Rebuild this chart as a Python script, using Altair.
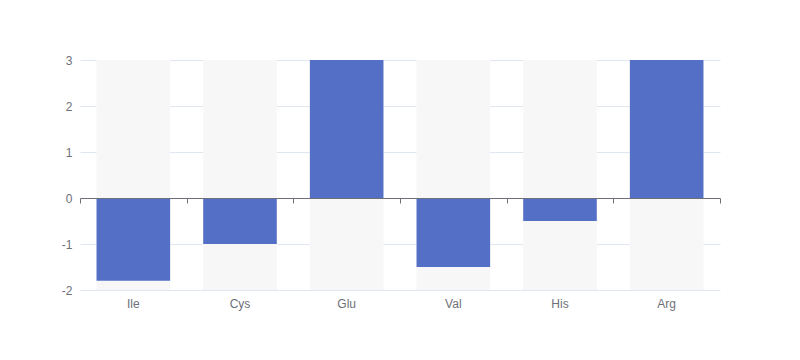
import altair as alt
import pandas as pd

categories = ["Ile", "Cys", "Glu", "Val", "His", "Arg"]
values = [-1.8, -1.0, 3.0, -1.5, -0.5, 3.0]

df = pd.DataFrame({"cat": categories, "val": values})

xscale = alt.Scale(domain=categories, paddingInner=0, paddingOuter=0)
yscale = alt.Scale(domain=[-2, 3], nice=False)

yaxis = alt.Axis(title=None, domain=False, ticks=False, grid=True, values=[-2, -1, 0, 1, 2, 3],
                 gridColor="#E0E6F1", labelColor="#6E7079", labelFontSize=12,
                 labelPadding=8, labelFont="sans-serif", orient="left",
                 labelExpr="'' + datum.value")

bw = alt.RelativeBandSize(0.69)

bg = alt.Chart(df).mark_bar(color="#f7f7f7", width=bw).encode(
    x=alt.X("cat:N", scale=xscale, sort=categories,
            axis=alt.Axis(title=None, domain=False, ticks=False, grid=False, labelAngle=0,
                          orient="bottom", labelColor="#6E7079", labelFontSize=12,
                          labelPadding=8, labelFont="sans-serif")),
    y=alt.datum(3, scale=yscale, axis=yaxis),
    y2=alt.datum(-2),
)

bars = alt.Chart(df).mark_bar(color="#5470c6", clip=True, width=bw).encode(
    x=alt.X("cat:N", scale=xscale, sort=categories,
            axis=alt.Axis(title=None, labels=False, domain=True, domainColor="#6E7079",
                          ticks=True, tickColor="#6E7079", tickSize=5, tickBand="extent",
                          grid=False, offset=-92, orient="bottom", zindex=1)),
    y=alt.Y("val:Q", scale=yscale, axis=yaxis),
    y2=alt.datum(0),
)

chart = alt.layer(bg, bars).resolve_axis(x="independent").properties(
    width=640, height=230,
    autosize=alt.AutoSizeParams(type="none"),
    padding={"left": 72, "top": 52, "right": 60, "bottom": 50},
).configure_view(stroke=None)

chart.save("out.html", embed_options={"renderer": "svg", "actions": False})
